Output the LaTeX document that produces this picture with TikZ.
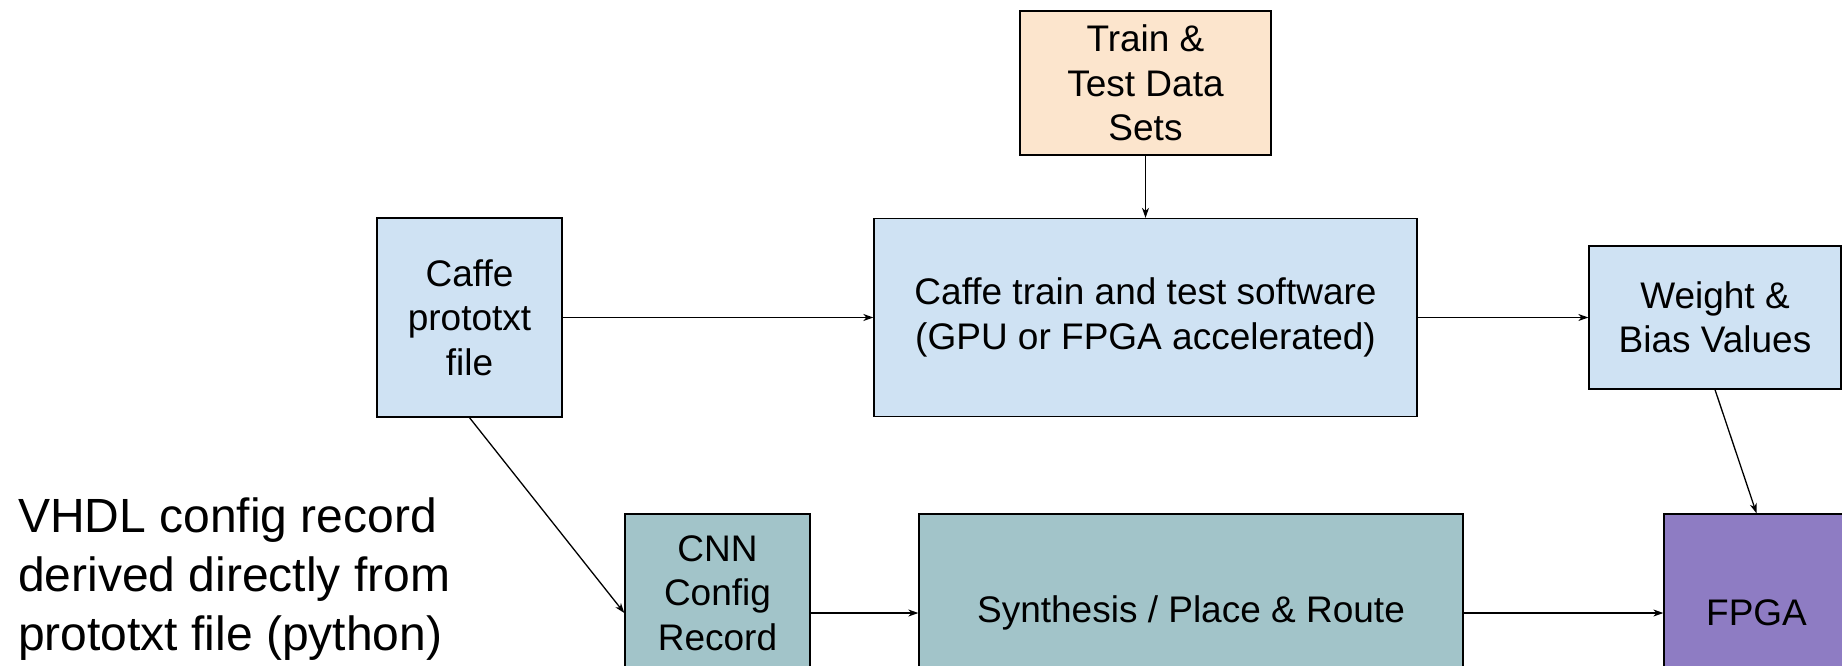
\documentclass[tikz,border=0pt]{standalone}
\usepackage{fontspec}
\setmainfont{Liberation Sans}
\usetikzlibrary{arrows.meta}
\definecolor{boxblue}{HTML}{CFE2F3}
\definecolor{boxpeach}{HTML}{FCE5CD}
\definecolor{boxteal}{HTML}{A2C4C9}
\definecolor{boxpurple}{HTML}{8E7CC3}
\tikzset{
  x=1pt, y=-1pt,
  blk/.style={draw=black, line width=1.3pt, rectangle, inner sep=0pt, align=center,
    font=\fontsize{37}{44.5}\selectfont},
  conn/.style={line width=1.3pt, -{Stealth[length=10pt,width=7pt,inset=3pt]}},
  note/.style={inner sep=0pt, align=left, font=\fontsize{48}{59}\selectfont}
}
\begin{document}
\begin{tikzpicture}
\useasboundingbox (0,0) rectangle (1842,665);
\clip (0,0) rectangle (1842,665);
\node[blk, fill=boxpeach, minimum width=251pt, minimum height=144pt] (train) at (1145.5,83) {Train \&\\Test Data\\Sets};
\node[blk, fill=boxblue, minimum width=185pt, minimum height=199pt] (proto) at (469.5,317.5) {Caffe\\prototxt\\file};
\node[blk, fill=boxblue, minimum width=543pt, minimum height=198pt] (caffe) at (1145.5,317.5) {Caffe train and test software\\(GPU or FPGA accelerated)};
\node[blk, fill=boxblue, minimum width=252pt, minimum height=143pt] (weight) at (1715,317.5) {Weight \&\\Bias Values};
\node[blk, fill=boxteal, minimum width=185pt, minimum height=198pt] (cnn) at (717.5,613) {};
\node[inner sep=0pt, align=center, font=\fontsize{37}{44.5}\selectfont] (cnntext) at ([yshift=20pt]cnn.center) {CNN\\Config\\Record};
\node[blk, fill=boxteal, minimum width=544pt, minimum height=198pt] (synth) at (1191,613) {Synthesis / Place \& Route};
\node[blk, fill=boxpurple, minimum width=185pt, minimum height=198pt] (fpga) at (1756.5,613) {FPGA};
\node[note, anchor=north west] (vhdl) at (18,498) {VHDL config record\\derived directly from\\prototxt file (python)};
\draw[conn] (train.south) -- (caffe.north);
\draw[conn] (proto.east) -- (proto.east -| caffe.west);
\draw[conn] (caffe.east) -- (weight.west);
\draw[conn] (weight.south) -- (fpga.north);
\draw[conn] (proto.south) -- (cnn.west);
\draw[conn] (cnn.east) -- (synth.west);
\draw[conn] (synth.east) -- (fpga.west);
\end{tikzpicture}
\end{document}
